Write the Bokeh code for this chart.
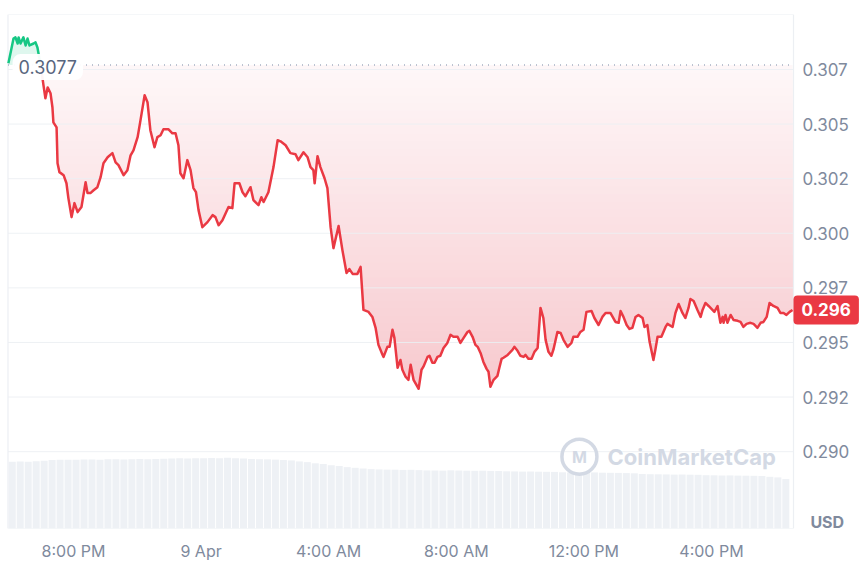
import numpy as np
from bokeh.plotting import figure
from bokeh.models import Range1d, FixedTicker, Label
from bokeh.embed import file_html
from bokeh.resources import INLINE
from bokeh.core.properties import value

# ---------------- data ----------------
# time in hours since 8 Apr 00:00
times = [
    17.96, 18.12, 18.18, 18.25, 18.28, 18.34, 18.43, 18.50, 18.56, 18.62, 18.75, 18.81, 18.87, 18.97,
    19.06, 19.12, 19.19, 19.28, 19.34, 19.37, 19.47, 19.50, 19.56, 19.69, 19.78, 19.84, 19.94, 20.03,
    20.13, 20.25, 20.38, 20.44, 20.53, 20.63, 20.75, 20.85, 20.94, 21.07, 21.22, 21.32, 21.41, 21.57,
    21.69, 21.79, 21.88, 22.01, 22.10, 22.23, 22.32, 22.41, 22.54, 22.63, 22.73, 22.82, 22.98, 23.10,
    23.20, 23.29, 23.35, 23.45, 23.57, 23.67, 23.76, 23.84, 23.92, 24.04, 24.20, 24.36, 24.45, 24.55,
    24.67, 24.77, 24.86, 24.98, 25.05, 25.20, 25.30, 25.39, 25.55, 25.64, 25.80, 25.89, 25.96, 26.11,
    26.27, 26.40, 26.49, 26.65, 26.80, 26.96, 27.05, 27.21, 27.34, 27.43, 27.52, 27.56, 27.65, 27.74,
    27.87, 27.96, 28.06, 28.15, 28.31, 28.43, 28.56, 28.65, 28.75, 28.90, 29.00, 29.09, 29.25, 29.37,
    29.47, 29.56, 29.69, 29.72, 29.84, 29.91, 30.00, 30.06, 30.16, 30.25, 30.31, 30.41, 30.50, 30.57,
    30.66, 30.75, 30.82, 30.91, 30.97, 31.10, 31.16, 31.25, 31.32, 31.41, 31.50, 31.60, 31.72, 31.82,
    31.91, 32.04, 32.13, 32.23, 32.35, 32.41, 32.51, 32.60, 32.67, 32.76, 32.85, 32.95, 33.01, 33.07,
    33.17, 33.29, 33.35, 33.42, 33.48, 33.61, 33.76, 33.82, 33.92, 34.01, 34.11, 34.17, 34.26, 34.36,
    34.45, 34.55, 34.64, 34.73, 34.80, 34.89, 34.98, 35.05, 35.17, 35.27, 35.36, 35.49, 35.61, 35.67,
    35.80, 35.89, 35.99, 36.08, 36.24, 36.33, 36.46, 36.58, 36.68, 36.83, 36.99, 37.09, 37.15, 37.24,
    37.34, 37.43, 37.52, 37.62, 37.71, 37.84, 37.90, 37.99, 38.06, 38.18, 38.24, 38.31, 38.43, 38.56,
    38.62, 38.78, 38.87, 38.97, 39.09, 39.18, 39.28, 39.34, 39.44, 39.56, 39.66, 39.72, 39.81, 39.91,
    40.03, 40.09, 40.19, 40.22, 40.28, 40.35, 40.38, 40.44, 40.50, 40.60, 40.69, 40.82, 40.91, 41.00,
    41.10, 41.22, 41.32, 41.44, 41.54, 41.63, 41.73, 41.82, 41.94, 42.07, 42.16, 42.26, 42.35, 42.45,
    42.54,
]
prices = [
    0.30778, 0.30892, 0.30897, 0.30869, 0.30897, 0.30869, 0.30897, 0.30860, 0.30892, 0.30860, 0.30869, 0.30874, 0.30851, 0.30770,
    0.30677, 0.30618, 0.30668, 0.30641, 0.30577, 0.30508, 0.30485, 0.30321, 0.30280, 0.30266, 0.30229, 0.30161, 0.30074, 0.30138,
    0.30097, 0.30120, 0.30234, 0.30184, 0.30184, 0.30197, 0.30211, 0.30257, 0.30321, 0.30348, 0.30367, 0.30325, 0.30312, 0.30266,
    0.30289, 0.30357, 0.30380, 0.30440, 0.30517, 0.30632, 0.30600, 0.30472, 0.30394, 0.30440, 0.30449, 0.30476, 0.30476, 0.30458,
    0.30458, 0.30403, 0.30275, 0.30252, 0.30335, 0.30289, 0.30207, 0.30188, 0.30106, 0.30028, 0.30051, 0.30083, 0.30074, 0.30037,
    0.30060, 0.30092, 0.30120, 0.30115, 0.30229, 0.30229, 0.30188, 0.30170, 0.30211, 0.30152, 0.30129, 0.30165, 0.30143, 0.30188,
    0.30303, 0.30426, 0.30421, 0.30403, 0.30367, 0.30362, 0.30335, 0.30371, 0.30348, 0.30303, 0.30289, 0.30229, 0.30353, 0.30303,
    0.30252, 0.30207, 0.30028, 0.29932, 0.30033, 0.29923, 0.29818, 0.29836, 0.29814, 0.29814, 0.29846, 0.29649, 0.29640, 0.29617,
    0.29567, 0.29489, 0.29443, 0.29434, 0.29480, 0.29480, 0.29558, 0.29521, 0.29384, 0.29420, 0.29375, 0.29343, 0.29329, 0.29398,
    0.29329, 0.29306, 0.29288, 0.29375, 0.29389, 0.29434, 0.29439, 0.29407, 0.29407, 0.29434, 0.29439, 0.29475, 0.29498, 0.29535,
    0.29526, 0.29526, 0.29498, 0.29521, 0.29548, 0.29553, 0.29526, 0.29489, 0.29480, 0.29452, 0.29411, 0.29379, 0.29366, 0.29297,
    0.29329, 0.29347, 0.29384, 0.29425, 0.29430, 0.29443, 0.29466, 0.29480, 0.29462, 0.29439, 0.29434, 0.29443, 0.29425, 0.29425,
    0.29457, 0.29475, 0.29658, 0.29612, 0.29512, 0.29457, 0.29439, 0.29470, 0.29548, 0.29544, 0.29512, 0.29480, 0.29498, 0.29526,
    0.29526, 0.29548, 0.29558, 0.29640, 0.29644, 0.29612, 0.29580, 0.29617, 0.29635, 0.29635, 0.29594, 0.29590, 0.29644, 0.29617,
    0.29580, 0.29562, 0.29567, 0.29617, 0.29626, 0.29612, 0.29571, 0.29580, 0.29503, 0.29420, 0.29466, 0.29526, 0.29526, 0.29571,
    0.29585, 0.29571, 0.29635, 0.29676, 0.29635, 0.29612, 0.29658, 0.29699, 0.29690, 0.29649, 0.29617, 0.29649, 0.29681, 0.29667,
    0.29649, 0.29640, 0.29667, 0.29640, 0.29590, 0.29617, 0.29590, 0.29626, 0.29590, 0.29626, 0.29603, 0.29599, 0.29594, 0.29571,
    0.29585, 0.29590, 0.29585, 0.29567, 0.29590, 0.29594, 0.29617, 0.29681, 0.29667, 0.29658, 0.29635, 0.29635, 0.29626, 0.29640,
    0.29649,
]
ref_price = 0.3077
ref_label = "0.3077"
last_label = "0.296"
currency = "USD"

x_tick_hours = [20, 24, 28, 32, 36, 40]
x_tick_labels = ["8:00 PM", "9 Apr", "4:00 AM", "8:00 AM", "12:00 PM", "4:00 PM"]
y_ticks = [0.290, 0.2925, 0.295, 0.2975, 0.300, 0.3025, 0.305, 0.3075]
y_tick_labels = ["0.290", "0.292", "0.295", "0.297", "0.300", "0.302", "0.305", "0.307"]

vol_start = 18.08   # hour of the first volume bar
vol_step = 0.25     # 15-minute bars
volumes = [
    66.8, 67.1, 67.0, 67.3, 67.9,
    68.6, 69.0, 68.8, 68.9, 69.1,
    69.2, 69.0, 69.3, 69.4, 69.2, 69.5, 69.6, 69.4, 69.7, 69.8,
    70.1, 70.3, 70.2, 70.4, 70.3, 70.6, 70.5, 71.0, 70.4, 70.2,
    69.6, 69.4, 69.3, 69.0, 68.6, 68.2,
    67.2, 66.5,
    65.3, 64.6,
    63.4, 62.6,
    61.5, 60.8, 60.1,
    59.5, 59.2, 59.0, 58.9, 58.7, 58.8, 58.5,
    58.2, 58.1, 58.0, 58.3, 58.1, 57.9, 57.8, 57.9, 57.7, 57.6,
    57.3, 57.2, 57.0, 57.1, 56.9, 56.8, 56.7,
    56.3, 56.2, 56.1, 56.0, 56.2, 55.9, 55.8, 55.7, 55.5, 55.3,
    54.6, 54.4, 54.3, 54.2, 54.0, 54.1, 53.9, 53.8,
    53.4, 53.3, 53.1, 53.2, 53.0, 52.9, 52.8, 52.6,
    51.8, 51.2, 49.5,
]

# ---------------- layout / styling ----------------
RED = "#ea3943"
GREEN = "#16c784"
GREY = "#808a9d"
GRID = "#eceff3"
FONT = "Inter"

X0, X1 = 17.712, 44.828        # whole drawing width (chart + price column)
BOX_L, BOX_R = 17.947, 42.571  # chart box edges
LABEL_X = 42.853               # price column text position
BADGE_X = 42.570               # last price badge anchor
Y0, Y1 = 0.286481, 0.310018

p = figure(width=865, height=563, output_backend="svg", toolbar_location=None,
           x_range=Range1d(X0, X1), y_range=Range1d(Y0, Y1),
           y_axis_location=None, min_border_left=0, min_border_right=0,
           min_border_top=14, min_border_bottom=0)
p.extra_y_ranges = {"vol": Range1d(0, 515)}
p.outline_line_color = None
p.background_fill_color = "white"
p.border_fill_color = "white"
p.grid.grid_line_color = None

xa = p.xaxis[0]
xa.ticker = FixedTicker(ticks=x_tick_hours)
xa.major_label_overrides = {h: s for h, s in zip(x_tick_hours, x_tick_labels)}
xa.axis_line_color = None
xa.major_tick_line_color = None
xa.minor_tick_line_color = None
xa.major_tick_out = 0
xa.major_tick_in = 0
xa.major_label_standoff = 12
xa.major_label_text_color = GREY
xa.major_label_text_font = FONT
xa.major_label_text_font_size = "16px"

# volume bars
vol_x = vol_start + vol_step * np.arange(len(volumes))
p.vbar(x=vol_x, top=volumes, bottom=0, width=vol_step * 0.88, y_range_name="vol",
       fill_color="#eef1f5", line_color=None)

# split price series at the reference price
t = np.array(times)
pr = np.array(prices)
k = int(np.argmax(pr < ref_price))
gt, gp = t[:k], pr[:k]
rt, rp = t[k - 1:], pr[k - 1:]

# green fill (above reference)
p.varea(x=gt, y1=np.full_like(gp, ref_price), y2=gp, fill_color=GREEN, fill_alpha=0.14)

# red vertical gradient between line and reference: nested opaque layers
ft = np.linspace(rt[0], rt[-1], 3000)
fp = np.interp(ft, rt, rp)
c_top = np.array([254, 247, 248])
c_bot = np.array([247, 199, 204])
bottom_level = 0.2924
n_layers = 45
levels = np.linspace(ref_price, bottom_level, n_layers)
for i, lvl in enumerate(levels):
    f = i / (n_layers - 1)
    c = c_top + (c_bot - c_top) * f
    col = "#%02x%02x%02x" % tuple(int(round(v)) for v in c)
    top = np.maximum(fp, lvl)
    p.varea(x=ft, y1=fp, y2=top, fill_color=col, fill_alpha=1.0)

# horizontal grid lines inside the chart box
p.segment(x0=[BOX_L] * len(y_ticks), x1=[BOX_R] * len(y_ticks), y0=y_ticks, y1=y_ticks,
          line_color=GRID, line_width=1, line_alpha=0.9)
# chart box
p.quad(left=[BOX_L], right=[BOX_R], top=[Y1], bottom=[Y0], fill_color=None,
       line_color=GRID, line_width=1.2)

# reference dotted line
p.segment(x0=[BOX_L], x1=[BOX_R], y0=[ref_price], y1=[ref_price], line_color="#a6b0c3",
          line_dash="1 5", line_width=1.5)

# price lines
p.line(gt, gp, line_color=GREEN, line_width=2.5, line_join="round")
p.line(rt, rp, line_color=RED, line_width=2.5, line_join="round")

# watermark
p.scatter(x=[35.86], y=[0.28977], marker="circle", size=35, fill_color=None,
          line_color="#d3d9e4", line_width=3.5)
p.text(x=[35.86], y=[0.28977], text=["M"], text_font=value(FONT), text_font_size="16px",
       text_font_style="bold", text_color="#d3d9e4", text_align="center", text_baseline="middle")
p.text(x=[36.74], y=[0.28977], text=["CoinMarketCap"], text_font=value(FONT),
       text_font_size="22px", text_font_style="bold", text_color="#d3d9e4",
       text_align="left", text_baseline="middle")

# price column (tick labels)
p.text(x=[LABEL_X] * len(y_ticks), y=y_ticks, text=y_tick_labels, text_font=value(FONT),
       text_font_size="17px", text_color=GREY, text_align="left", text_baseline="middle")

# reference price label
p.add_layout(Label(x=18.09, y=0.30761, text=ref_label, text_font=FONT,
                   text_font_size="18px", text_color="#58667e", text_align="left",
                   text_baseline="middle", background_fill_color="white",
                   background_fill_alpha=0.95, border_radius=8, padding=6))

# last price badge
p.text(x=[BADGE_X], y=[prices[-1]], text=[last_label], text_font=value(FONT),
       text_font_size="17px", text_font_style="bold", text_color="white",
       text_align="left", text_baseline="middle", background_fill_color=RED,
       border_radius=4, padding=8)

# currency
p.text(x=[43.10], y=[0.28680], text=[currency], text_font=value(FONT),
       text_font_size="16px", text_font_style="bold", text_color=GREY,
       text_align="left", text_baseline="middle")

open("out.html", "w").write(file_html(p, INLINE))
